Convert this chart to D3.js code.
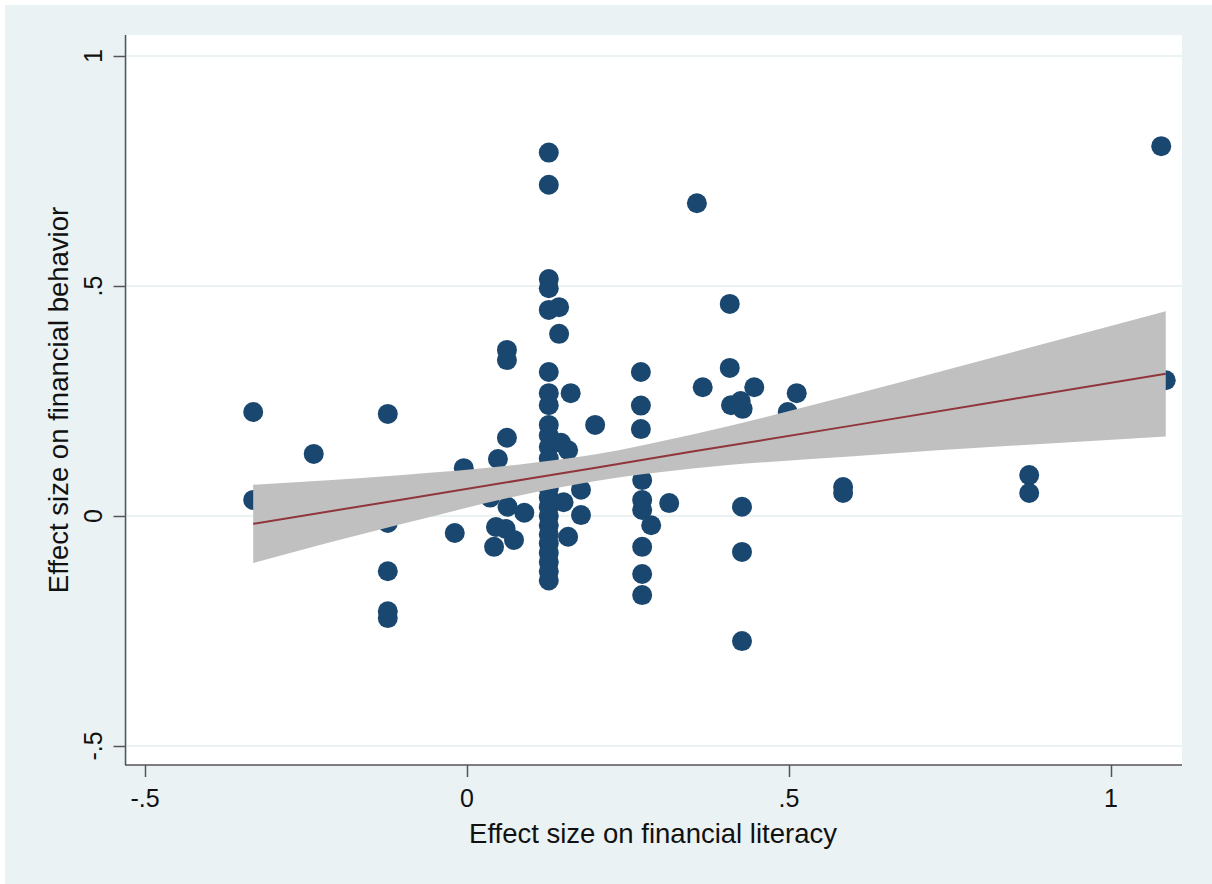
<!DOCTYPE html>
<html>
<head>
<meta charset="utf-8">
<script src="https://cdn.jsdelivr.net/npm/d3@7"></script>
<style>
  html, body { margin: 0; padding: 0; background: #fff; }
  svg { display: block; font-family: "Liberation Sans", Arial, sans-serif; }
</style>
</head>
<body>
<svg id="chart" width="1212" height="884"></svg>
<script>
// effect sizes (x = literacy, y = behavior)
const litX = [
  -0.332, -0.332, -0.238, -0.123, -0.123, -0.123, -0.123, -0.123,
  -0.019, -0.005, 0.036, 0.042, 0.045, 0.048, 0.060, 0.062, 0.062, 0.062, 0.063, 0.073, 0.089,
  0.127, 0.127, 0.127, 0.127, 0.127, 0.127, 0.127, 0.127, 0.127, 0.127, 0.127, 0.127, 0.127,
  0.127, 0.127, 0.127, 0.127, 0.127, 0.127, 0.127, 0.127, 0.127, 0.127, 0.127, 0.127,
  0.143, 0.143, 0.146, 0.157, 0.161, 0.177, 0.177, 0.157, 0.150, 0.199,
  0.270, 0.270, 0.270, 0.272, 0.272, 0.272, 0.286, 0.314, 0.272, 0.272, 0.272,
  0.357, 0.366, 0.408, 0.408, 0.410, 0.425, 0.428, 0.446, 0.427, 0.427, 0.427,
  0.498, 0.512, 0.584, 0.584, 0.873, 0.873, 1.078, 1.085
];
const behY = [
  0.226, 0.035, 0.135, 0.222, -0.015, -0.120, -0.207, -0.222,
  -0.037, 0.104, 0.040, -0.067, -0.024, 0.124, -0.028, 0.170, 0.361, 0.339, 0.020, -0.052, 0.007,
  0.790, 0.720, 0.515, 0.495, 0.448, 0.313, 0.267, 0.241, 0.198, 0.175, 0.150, 0.125, 0.100,
  0.080, 0.060, 0.040, 0.020, 0.000, -0.020, -0.040, -0.060, -0.080, -0.100, -0.120, -0.140,
  0.454, 0.396, 0.159, 0.143, 0.267, 0.057, 0.002, -0.045, 0.030, 0.198,
  0.313, 0.240, 0.189, 0.078, 0.035, 0.013, -0.020, 0.028, -0.067, -0.126, -0.172,
  0.680, 0.280, 0.461, 0.322, 0.241, 0.250, 0.233, 0.280, 0.020, -0.078, -0.272,
  0.226, 0.267, 0.063, 0.050, 0.089, 0.050, 0.804, 0.295
];

// linear fit with 95% CI band
const fitX    = [-0.332, -0.1,   0.1,   0.2,   0.35,  0.6,   0.85,  1.085];
const fitY    = [-0.017, 0.036, 0.082, 0.105, 0.140, 0.197, 0.255, 0.309];
const ciLow   = [-0.102, -0.017, 0.050, 0.076, 0.103, 0.130, 0.153, 0.173];
const ciHigh  = [0.068, 0.089, 0.115, 0.134, 0.177, 0.264, 0.357, 0.445];

const xTicks = [-0.5, 0, 0.5, 1];
const yTicks = [-0.5, 0, 0.5, 1];
const xTickLabels = ["-.5", "0", ".5", "1"];
const yTickLabels = ["-.5", "0", ".5", "1"];

const svg = d3.select("#chart");
const plot = { left: 127, right: 1182, top: 35, bottom: 765 };

const x = d3.scaleLinear().domain([-0.5, 1]).range([145, 1111]);
const y = d3.scaleLinear().domain([-0.5, 1]).range([746, 56]);

// graph region + plot region
svg.append("rect").attr("x", 5).attr("y", 5).attr("width", 1207).attr("height", 879).attr("fill", "#eaf2f3");
svg.append("rect")
  .attr("x", plot.left).attr("y", plot.top)
  .attr("width", plot.right - plot.left).attr("height", plot.bottom - plot.top)
  .attr("fill", "#fff");

// horizontal grid
svg.append("g").selectAll("line")
  .data(yTicks)
  .enter().append("line")
  .attr("x1", plot.left).attr("x2", plot.right)
  .attr("y1", d => y(d)).attr("y2", d => y(d))
  .attr("stroke", "#eaf2f3").attr("stroke-width", 2);

// scatter
svg.append("g").selectAll("circle")
  .data(litX.map((v, i) => [v, behY[i]]))
  .enter().append("circle")
  .attr("cx", d => x(d[0]))
  .attr("cy", d => y(d[1]))
  .attr("r", 10)
  .attr("fill", "#1a476f");

// CI band and fitted line
const band = fitX.map((v, i) => ({ x: v, lo: ciLow[i], hi: ciHigh[i], f: fitY[i] }));
svg.append("path")
  .datum(band)
  .attr("fill", "#c0c0c0")
  .attr("d", d3.area().curve(d3.curveMonotoneX).x(d => x(d.x)).y0(d => y(d.lo)).y1(d => y(d.hi)));
svg.append("path")
  .datum(band)
  .attr("fill", "none")
  .attr("stroke", "#90353b")
  .attr("stroke-width", 2)
  .attr("d", d3.line().x(d => x(d.x)).y(d => y(d.f)));

// axes
const yAxis = svg.append("g")
  .attr("transform", `translate(${plot.left - 1.5},0)`)
  .call(d3.axisLeft(y).tickValues(yTicks).tickSize(12).tickFormat(""));
yAxis.select(".domain").attr("d", `M0,${plot.top}V${plot.bottom}`);
const xAxis = svg.append("g")
  .attr("transform", `translate(0,${plot.bottom})`)
  .call(d3.axisBottom(x).tickValues(xTicks).tickSize(12).tickFormat(""));
xAxis.select(".domain").attr("d", `M${plot.left - 2},0H${plot.right}`);
svg.selectAll(".domain, .tick line").attr("stroke", "#555").attr("stroke-width", 1.5);

// tick labels
svg.append("g").selectAll("text")
  .data(xTicks)
  .enter().append("text")
  .attr("x", d => x(d)).attr("y", 807)
  .attr("text-anchor", "middle")
  .style("font-size", "25px").style("fill", "#111")
  .text((d, i) => xTickLabels[i]);
svg.append("g").selectAll("text")
  .data(yTicks)
  .enter().append("text")
  .attr("transform", d => `translate(102,${y(d)}) rotate(-90)`)
  .attr("text-anchor", "middle")
  .style("font-size", "25px").style("fill", "#111")
  .text((d, i) => yTickLabels[i]);

// titles
svg.append("text")
  .attr("x", 653).attr("y", 843)
  .attr("text-anchor", "middle")
  .style("font-size", "27.5px").style("fill", "#111")
  .text("Effect size on financial literacy");
svg.append("text")
  .attr("transform", `translate(68,${(plot.top + plot.bottom) / 2}) rotate(-90)`)
  .attr("text-anchor", "middle")
  .style("font-size", "27.5px").style("fill", "#111")
  .text("Effect size on financial behavior");
</script>
</body>
</html>
